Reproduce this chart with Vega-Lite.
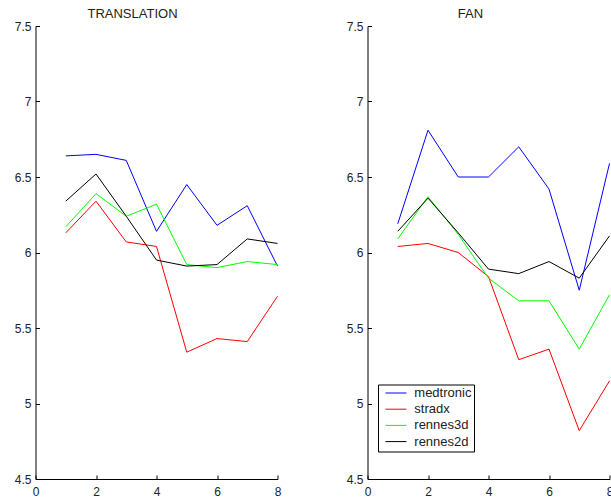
{
  "$schema": "https://vega.github.io/schema/vega-lite/v6.json",
  "autosize": {"type": "none"},
  "padding": {"left": 35.5, "top": 26, "right": 575.5, "bottom": 473},
  "background": "white",
  "datasets": {
    "translation": [
      {"series": "medtronic", "x": 1, "y": 6.64}, {"series": "medtronic", "x": 2, "y": 6.65}, {"series": "medtronic", "x": 3, "y": 6.61}, {"series": "medtronic", "x": 4, "y": 6.14},
      {"series": "medtronic", "x": 5, "y": 6.45}, {"series": "medtronic", "x": 6, "y": 6.18}, {"series": "medtronic", "x": 7, "y": 6.31}, {"series": "medtronic", "x": 8, "y": 5.91},
      {"series": "stradx", "x": 1, "y": 6.13}, {"series": "stradx", "x": 2, "y": 6.34}, {"series": "stradx", "x": 3, "y": 6.07}, {"series": "stradx", "x": 4, "y": 6.04},
      {"series": "stradx", "x": 5, "y": 5.34}, {"series": "stradx", "x": 6, "y": 5.43}, {"series": "stradx", "x": 7, "y": 5.41}, {"series": "stradx", "x": 8, "y": 5.71},
      {"series": "rennes3d", "x": 1, "y": 6.17}, {"series": "rennes3d", "x": 2, "y": 6.39}, {"series": "rennes3d", "x": 3, "y": 6.24}, {"series": "rennes3d", "x": 4, "y": 6.32},
      {"series": "rennes3d", "x": 5, "y": 5.92}, {"series": "rennes3d", "x": 6, "y": 5.90}, {"series": "rennes3d", "x": 7, "y": 5.94}, {"series": "rennes3d", "x": 8, "y": 5.92},
      {"series": "rennes2d", "x": 1, "y": 6.34}, {"series": "rennes2d", "x": 2, "y": 6.52}, {"series": "rennes2d", "x": 3, "y": 6.24}, {"series": "rennes2d", "x": 4, "y": 5.95},
      {"series": "rennes2d", "x": 5, "y": 5.91}, {"series": "rennes2d", "x": 6, "y": 5.92}, {"series": "rennes2d", "x": 7, "y": 6.09}, {"series": "rennes2d", "x": 8, "y": 6.06}
    ],
    "fan": [
      {"series": "medtronic", "x": 1, "y": 6.19}, {"series": "medtronic", "x": 2, "y": 6.81}, {"series": "medtronic", "x": 3, "y": 6.50}, {"series": "medtronic", "x": 4, "y": 6.50},
      {"series": "medtronic", "x": 5, "y": 6.70}, {"series": "medtronic", "x": 6, "y": 6.42}, {"series": "medtronic", "x": 7, "y": 5.75}, {"series": "medtronic", "x": 8, "y": 6.59},
      {"series": "stradx", "x": 1, "y": 6.04}, {"series": "stradx", "x": 2, "y": 6.06}, {"series": "stradx", "x": 3, "y": 6.00}, {"series": "stradx", "x": 4, "y": 5.84},
      {"series": "stradx", "x": 5, "y": 5.29}, {"series": "stradx", "x": 6, "y": 5.36}, {"series": "stradx", "x": 7, "y": 4.82}, {"series": "stradx", "x": 8, "y": 5.15},
      {"series": "rennes3d", "x": 1, "y": 6.09}, {"series": "rennes3d", "x": 2, "y": 6.37}, {"series": "rennes3d", "x": 3, "y": 6.12}, {"series": "rennes3d", "x": 4, "y": 5.83},
      {"series": "rennes3d", "x": 5, "y": 5.68}, {"series": "rennes3d", "x": 6, "y": 5.68}, {"series": "rennes3d", "x": 7, "y": 5.36}, {"series": "rennes3d", "x": 8, "y": 5.72},
      {"series": "rennes2d", "x": 1, "y": 6.14}, {"series": "rennes2d", "x": 2, "y": 6.36}, {"series": "rennes2d", "x": 3, "y": 6.13}, {"series": "rennes2d", "x": 4, "y": 5.89},
      {"series": "rennes2d", "x": 5, "y": 5.86}, {"series": "rennes2d", "x": 6, "y": 5.94}, {"series": "rennes2d", "x": 7, "y": 5.83}, {"series": "rennes2d", "x": 8, "y": 6.11}
    ]
  },
  "hconcat": [
    {
      "width": 242,
      "height": 453,
      "title": {"text": "TRANSLATION", "anchor": "middle", "frame": "group", "dx": -24, "dy": 16.5, "baseline": "alphabetic", "offset": 6},
      "data": {"name": "translation"},
      "mark": {"type": "line", "strokeWidth": 1, "clip": false},
      "encoding": {
        "x": {"field": "x", "type": "quantitative", "scale": {"domain": [0, 8], "nice": false, "zero": false}, "axis": {"values": [0, 2, 4, 6, 8], "title": null, "labelPadding": 11}},
        "y": {"field": "y", "type": "quantitative", "scale": {"domain": [4.5, 7.5], "nice": false, "zero": false}, "axis": {"values": [4.5, 5, 5.5, 6, 6.5, 7, 7.5], "title": null, "format": "~g", "labelPadding": 8.5}},
        "color": {"field": "series", "type": "nominal", "scale": {"domain": ["medtronic", "stradx", "rennes3d", "rennes2d"], "range": ["#0000ff", "#ff0000", "#00ff00", "#000000"]}, "legend": null}
      }
    },
    {
      "width": 242,
      "height": 453,
      "title": {"text": "FAN", "anchor": "middle", "frame": "group", "dx": -18, "dy": 16.5, "baseline": "alphabetic", "offset": 6},
      "data": {"name": "fan"},
      "mark": {"type": "line", "strokeWidth": 1, "clip": false},
      "encoding": {
        "x": {"field": "x", "type": "quantitative", "scale": {"domain": [0, 8], "nice": false, "zero": false}, "axis": {"values": [0, 2, 4, 6, 8], "title": null, "labelPadding": 11}},
        "y": {"field": "y", "type": "quantitative", "scale": {"domain": [4.5, 7.5], "nice": false, "zero": false}, "axis": {"values": [4.5, 5, 5.5, 6, 6.5, 7, 7.5], "title": null, "format": "~g", "labelPadding": 8.5}},
        "color": {
          "field": "series", "type": "nominal",
          "scale": {"domain": ["medtronic", "stradx", "rennes3d", "rennes2d"], "range": ["#0000ff", "#ff0000", "#00ff00", "#000000"]},
          "legend": {
            "orient": "none", "legendX": 10.5, "legendY": 358.5, "title": null,
            "symbolType": "M-0.17,0H3.33", "symbolSize": 144, "symbolStrokeWidth": 1,
            "labelOffset": 21.3, "padding": 2, "rowPadding": 2.2,
            "strokeColor": "black", "fillColor": "white",
            "labelFontSize": 13, "labelColor": "#222", "labelFont": "Liberation Sans",
            "labelExpr": "datum.label + '  '",
            "encode": {"symbols": {"update": {"stroke": {"scale": "color", "field": "value"}, "strokeWidth": {"value": 1}}}}
          }
        }
      }
    }
  ],
  "spacing": 90,
  "bounds": "flush",
  "resolve": {"legend": {"color": "independent"}},
  "config": {
    "view": {"stroke": null},
    "font": "Liberation Sans",
    "axis": {
      "domainColor": "black", "tickColor": "black", "labelColor": "#222",
      "labelFontSize": 12, "labelFont": "Liberation Sans",
      "tickSize": -4, "grid": false,
      "domainWidth": 1, "tickWidth": 1, "labelFlush": false, "labelOverlap": false
    },
    "title": {"fontSize": 13, "fontWeight": "normal", "color": "#222", "font": "Liberation Sans"}
  }
}
